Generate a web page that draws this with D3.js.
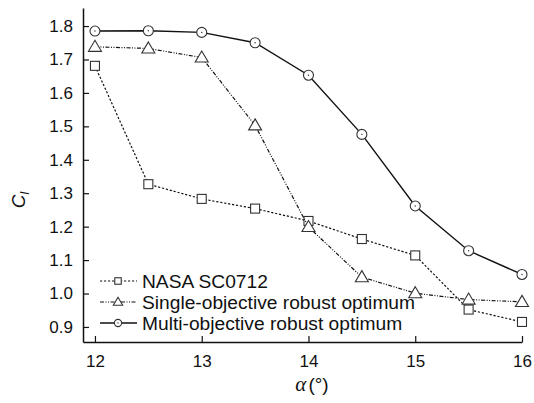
<!DOCTYPE html>
<html>
<head>
<meta charset="utf-8">
<script src="https://cdn.jsdelivr.net/npm/d3@7"></script>
<style>
  html, body { margin: 0; padding: 0; background: #fff; }
  svg { display: block; }
  text { font-family: "Liberation Sans", Arial, sans-serif; fill: #111; }
</style>
</head>
<body>
<svg id="chart" width="534" height="403"></svg>
<script>
// Angle of attack (deg)
const alpha = [12, 12.5, 13, 13.5, 14, 14.5, 15, 15.5, 16];

// Lift coefficient for each airfoil
const nasaSC0712 = [1.681, 1.327, 1.283, 1.254, 1.217, 1.163, 1.114, 0.952, 0.915];
const singleObjective = [1.738, 1.733, 1.706, 1.503, 1.199, 1.049, 1.001, 0.982, 0.975];
const multiObjective = [1.785, 1.786, 1.781, 1.750, 1.653, 1.476, 1.262, 1.128, 1.057];

const seriesNames = ["NASA SC0712", "Single-objective robust optimum", "Multi-objective robust optimum"];

const xTicks = [12, 13, 14, 15, 16];
const yTicks = [0.9, 1.0, 1.1, 1.2, 1.3, 1.4, 1.5, 1.6, 1.7, 1.8];

const svg = d3.select("#chart");

const x = d3.scaleLinear().domain([11.888, 16]).range([83, 522]);
const y = d3.scaleLinear().domain([0.855, 1.854]).range([342, 8]);

const series = [
  { name: seriesNames[0], values: nasaSC0712, dash: "2.2,1.8", marker: "square" },
  { name: seriesNames[1], values: singleObjective, dash: "4,1.5,1,1.5,1,1.5", marker: "triangle" },
  { name: seriesNames[2], values: multiObjective, dash: null, marker: "circle" }
];

// Axes with inward ticks
const xAxis = d3.axisBottom(x).tickValues(xTicks).tickFormat(d3.format("d"))
  .tickSizeInner(-6).tickSizeOuter(0).tickPadding(13);
const yAxis = d3.axisLeft(y).tickValues(yTicks).tickFormat(d3.format(".1f"))
  .tickSizeInner(-6).tickSizeOuter(0).tickPadding(10);

const gx = svg.append("g").attr("transform", `translate(0,${y.range()[0]})`).call(xAxis);
const gy = svg.append("g").attr("transform", `translate(${x.range()[0]},0)`).call(yAxis);

[gx, gy].forEach(g => {
  g.select(".domain").attr("stroke", "#111").attr("stroke-width", 1.5);
  g.selectAll(".tick line").attr("stroke", "#111").attr("stroke-width", 1.2);
  g.selectAll(".tick text").attr("font-size", 17).attr("font-family", "Liberation Sans, Arial, sans-serif").attr("fill", "#111");
});

// Marker drawing; k scales the marker size
function drawMarker(g, type, cx, cy, k = 1) {
  const common = sel => sel.attr("fill", "#fff").attr("stroke", "#333").attr("stroke-width", 1.1);
  if (type === "square") {
    const h = 4.5 * k;
    common(g.append("rect").attr("x", cx - h).attr("y", cy - h).attr("width", 2 * h).attr("height", 2 * h));
  } else if (type === "triangle") {
    const s = 6.5 * k;
    common(g.append("path").attr("d", `M${cx},${cy - s}L${cx + s},${cy + s * 0.7}L${cx - s},${cy + s * 0.7}Z`));
  } else {
    common(g.append("circle").attr("cx", cx).attr("cy", cy).attr("r", 5 * k));
    g.append("circle").attr("cx", cx).attr("cy", cy).attr("r", 0.7).attr("fill", "#333");
  }
}

const line = d3.line().x(d => x(d[0])).y(d => y(d[1]));

series.forEach(s => {
  const pts = alpha.map((a, i) => [a, s.values[i]]);
  svg.append("path")
    .attr("d", line(pts))
    .attr("fill", "none")
    .attr("stroke", "#111")
    .attr("stroke-width", s.dash ? 1.2 : 1.4)
    .attr("stroke-dasharray", s.dash);
  const g = svg.append("g");
  pts.forEach(p => drawMarker(g, s.marker, x(p[0]), y(p[1])));
});

// Legend
const legend = svg.append("g");
const legendRows = [281, 302, 323];
series.forEach((s, i) => {
  const ly = legendRows[i];
  legend.append("line")
    .attr("x1", 100).attr("x2", 137).attr("y1", ly).attr("y2", ly)
    .attr("stroke", "#111").attr("stroke-width", s.dash ? 1.2 : 1.4)
    .attr("stroke-dasharray", s.dash);
  drawMarker(legend, s.marker, 118, ly, 0.72);
  legend.append("text")
    .attr("x", 142).attr("y", ly + 7)
    .attr("font-size", 19.2)
    .text(s.name);
});

// Axis titles
const ylab = svg.append("text")
  .attr("transform", "translate(25,200) rotate(-90)")
  .attr("text-anchor", "middle")
  .attr("font-size", 19);
ylab.append("tspan").attr("font-style", "italic").text("C");
ylab.append("tspan").attr("font-style", "italic").attr("font-size", 12).attr("dy", 4).text("l");

const xlab = svg.append("text")
  .attr("x", 312).attr("y", 391)
  .attr("text-anchor", "middle")
  .attr("font-size", 19);
xlab.append("tspan").attr("font-family", "Liberation Serif, serif").attr("font-style", "italic").attr("font-size", 21).text("α");
xlab.append("tspan").attr("dx", 2).text("(°)");
</script>
</body>
</html>
